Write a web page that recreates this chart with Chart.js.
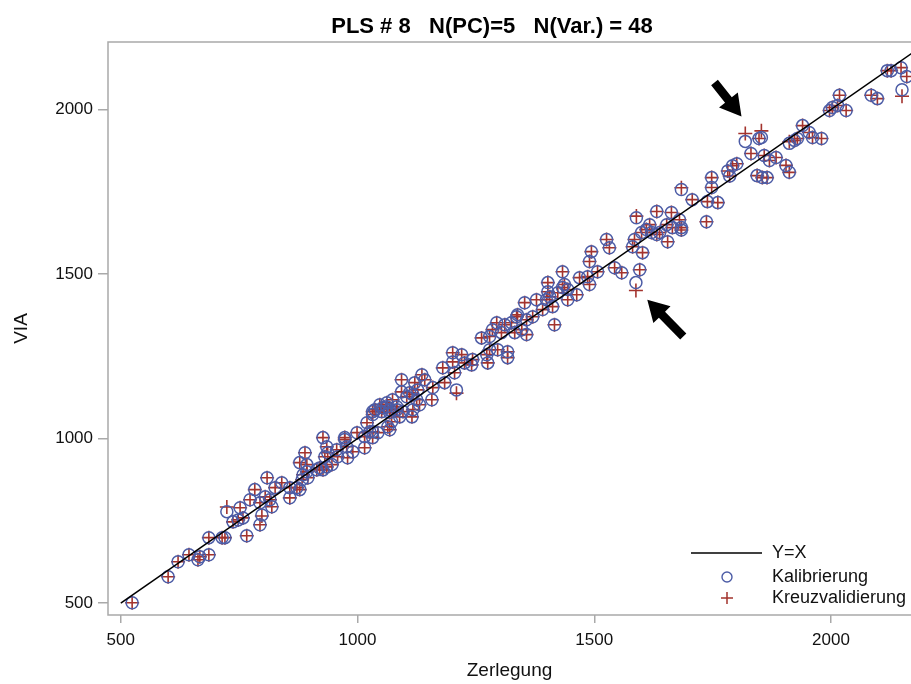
<!DOCTYPE html>
<html>
<head>
<meta charset="utf-8">
<script src="https://cdn.jsdelivr.net/npm/chart.js@4.4.1/dist/chart.umd.min.js"></script>
<style>
  html, body { margin: 0; padding: 0; background: #fff; }
</style>
</head>
<body>
<canvas id="myChart" width="911" height="684"></canvas>
<script>
// data
const zerlegung = [
  524, 600, 621, 644, 663, 667, 686, 686, 714, 720,
  724, 766, 737, 748, 758, 752, 773, 783, 794, 798,
  794, 805, 815, 819, 809, 826, 840, 857, 857, 872,
  878, 883, 885, 893, 895, 878, 889, 893, 914, 920,
  927, 935, 946, 931, 927, 935, 937, 956, 958, 973,
  977, 990, 979, 999, 1015, 1015, 1020, 1032, 1043, 1032,
  1051, 1062, 1068, 1068, 1083, 1074, 973, 1026, 1032, 1037,
  1032, 1047, 1053, 1062, 1068, 1072, 1064, 1083, 1089, 1096,
  1115, 1117, 1093, 1104, 1110, 1117, 1125, 1131, 1093, 1121,
  1136, 1142, 1127, 1157, 1159, 1184, 1180, 1201, 1201, 1205,
  1220, 1226, 1241, 1243, 1209, 1273, 1275, 1279, 1296, 1317,
  1317, 1262, 1279, 1285, 1294, 1304, 1311, 1325, 1336, 1332,
  1347, 1353, 1357, 1338, 1357, 1370, 1378, 1391, 1399, 1402,
  1412, 1416, 1402, 1406, 1423, 1433, 1437, 1444, 1444, 1463,
  1469, 1433, 1486, 1490, 1490, 1494, 1507, 1526, 1532, 1543,
  1558, 1596, 1588, 1581, 1585, 1589, 1600, 1602, 1610, 1617,
  1621, 1632, 1632, 1638, 1653, 1655, 1663, 1665, 1680, 1684,
  1707, 1684, 1684, 1737, 1739, 1748, 1748, 1761, 1782, 1792,
  1801, 1786, 1819, 1831, 1848, 1853, 1844, 1855, 1865, 1859,
  1870, 1884, 1905, 1912, 1912, 1923, 1929, 1940, 1954, 1961,
  1980, 1997, 2003, 2018, 2014, 2032, 2085, 2098, 2119, 2127,
  2148, 2160, 2150
];
const kalibrierung = [
  501, 580, 626, 647, 632, 641, 647, 699, 699, 699,
  778, 705, 747, 753, 759, 790, 814, 845, 805, 768,
  738, 823, 814, 793, 881, 851, 866, 820, 851, 851,
  845, 875, 890, 899, 881, 927, 957, 921, 905, 911,
  905, 914, 921, 945, 1003, 975, 957, 966, 945, 1003,
  975, 960, 942, 1018, 972, 1006, 1048, 1003, 1018, 1082,
  1082, 1097, 1079, 1027, 1088, 1118, 997, 1021, 1021, 1088,
  1073, 1103, 1094, 1109, 1088, 1051, 1036, 1097, 1066, 1082,
  1066, 1088, 1142, 1127, 1139, 1133, 1118, 1103, 1179, 1170,
  1194, 1179, 1148, 1118, 1155, 1170, 1215, 1261, 1233, 1200,
  1255, 1230, 1224, 1240, 1148, 1255, 1230, 1270, 1270, 1264,
  1246, 1306, 1310, 1331, 1352, 1322, 1346, 1352, 1370, 1322,
  1331, 1413, 1316, 1376, 1361, 1370, 1422, 1392, 1422, 1446,
  1401, 1346, 1474, 1431, 1443, 1459, 1468, 1453, 1422, 1437,
  1489, 1507, 1492, 1468, 1538, 1568, 1507, 1605, 1580, 1519,
  1504, 1513, 1474, 1583, 1605, 1671, 1626, 1565, 1635, 1650,
  1626, 1690, 1620, 1626, 1650, 1598, 1687, 1641, 1665, 1641,
  1726, 1757, 1634, 1659, 1720, 1793, 1763, 1717, 1813, 1829,
  1835, 1798, 1903, 1866, 1912, 1915, 1799, 1793, 1793, 1860,
  1845, 1854, 1830, 1809, 1897, 1906, 1912, 1951, 1930, 1915,
  1912, 1997, 2006, 2043, 2012, 1997, 2043, 2033, 2118, 2118,
  2127, 2100, 2060
];
const kreuzvalidierung = [
  501, 580, 626, 647, 632, 641, 647, 699, 699, 699,
  792, 705, 747, 753, 759, 790, 814, 845, 805, 765,
  738, 823, 814, 793, 881, 851, 866, 820, 851, 851,
  845, 875, 890, 899, 881, 927, 957, 921, 905, 911,
  905, 914, 921, 945, 1003, 975, 957, 966, 945, 1003,
  975, 960, 942, 1018, 972, 1006, 1048, 1003, 1018, 1082,
  1082, 1097, 1079, 1027, 1088, 1118, 997, 1021, 1021, 1088,
  1073, 1103, 1094, 1109, 1088, 1051, 1036, 1097, 1066, 1082,
  1066, 1088, 1142, 1127, 1139, 1133, 1118, 1103, 1179, 1170,
  1194, 1179, 1148, 1118, 1155, 1170, 1215, 1261, 1233, 1200,
  1255, 1230, 1224, 1240, 1138, 1255, 1230, 1270, 1270, 1264,
  1246, 1306, 1310, 1331, 1352, 1322, 1346, 1352, 1370, 1322,
  1331, 1413, 1316, 1376, 1361, 1370, 1422, 1392, 1422, 1446,
  1401, 1346, 1474, 1431, 1443, 1459, 1468, 1453, 1422, 1437,
  1489, 1507, 1492, 1468, 1538, 1568, 1507, 1605, 1580, 1519,
  1504, 1513, 1450, 1583, 1605, 1676, 1626, 1565, 1635, 1650,
  1626, 1690, 1620, 1626, 1650, 1598, 1687, 1641, 1665, 1641,
  1726, 1762, 1634, 1659, 1720, 1793, 1763, 1717, 1813, 1829,
  1835, 1798, 1927, 1866, 1912, 1935, 1799, 1793, 1793, 1860,
  1845, 1854, 1830, 1809, 1902, 1906, 1912, 1951, 1930, 1915,
  1912, 1997, 2006, 2043, 2012, 1997, 2043, 2033, 2118, 2118,
  2127, 2100, 2040
];
const xTicks = [500, 1000, 1500, 2000];
const yTicks = [500, 1000, 1500, 2000];
const diagonal = [500, 2300];
// arrows pointing at the two outliers: [tailX, tailY, tipX, tipY] in data units
const arrows = [
  [1754, 2082, 1811, 1979],
  [1688, 1310, 1612, 1422],
];

const titleText = "PLS # 8   N(PC)=5   N(Var.) = 48";
const blue = "#4c5ca6";
const red = "#a3332d";
const frameGray = "#a9a9a9";
const font = "'Liberation Sans', Arial, sans-serif";

function drawArrow(ctx, x1, y1, x2, y2) {
  const ang = Math.atan2(y2 - y1, x2 - x1);
  const len = Math.hypot(x2 - x1, y2 - y1);
  const head = 21, hw = 12, sw = 4.3;
  ctx.save();
  ctx.translate(x1, y1);
  ctx.rotate(ang);
  ctx.beginPath();
  ctx.moveTo(0, -sw);
  ctx.lineTo(len - head, -sw);
  ctx.lineTo(len - head, -hw);
  ctx.lineTo(len, 0);
  ctx.lineTo(len - head, hw);
  ctx.lineTo(len - head, sw);
  ctx.lineTo(0, sw);
  ctx.closePath();
  ctx.fillStyle = "#000";
  ctx.fill();
  ctx.restore();
}

const decor = {
  id: "decor",
  beforeDatasetsDraw(chart) {
    const { ctx, chartArea: a } = chart;
    ctx.save();
    ctx.strokeStyle = frameGray;
    ctx.lineWidth = 1.5;
    ctx.strokeRect(a.left, a.top, a.right - a.left + 20, a.bottom - a.top);
    ctx.restore();
  },
  afterDraw(chart) {
    const { ctx } = chart;
    const xs = chart.scales.x, ys = chart.scales.y;
    ctx.save();
    // title
    ctx.fillStyle = "#000";
    ctx.font = "bold 22px " + font;
    ctx.textAlign = "center";
    ctx.textBaseline = "middle";
    ctx.fillText(titleText, 492, 27);

    // arrows
    arrows.forEach((r) => {
      drawArrow(ctx, xs.getPixelForValue(r[0]), ys.getPixelForValue(r[1]),
        xs.getPixelForValue(r[2]), ys.getPixelForValue(r[3]));
    });

    // legend
    ctx.font = "18px " + font;
    ctx.textAlign = "left";
    ctx.fillStyle = "#111";
    ctx.strokeStyle = "#000";
    ctx.lineWidth = 1.5;
    ctx.beginPath();
    ctx.moveTo(691, 553);
    ctx.lineTo(762, 553);
    ctx.stroke();
    ctx.fillText("Y=X", 772, 553);
    ctx.strokeStyle = blue;
    ctx.lineWidth = 1.4;
    ctx.beginPath();
    ctx.arc(727, 577, 5, 0, Math.PI * 2);
    ctx.stroke();
    ctx.fillText("Kalibrierung", 772, 577);
    ctx.strokeStyle = red;
    ctx.lineWidth = 1.5;
    ctx.beginPath();
    ctx.moveTo(721, 598); ctx.lineTo(733, 598);
    ctx.moveTo(727, 592); ctx.lineTo(727, 604);
    ctx.stroke();
    ctx.fillText("Kreuzvalidierung", 772, 598);
    ctx.restore();
  },
};

new Chart("myChart", {
  type: "scatter",
  data: {
    datasets: [
      {
        label: "Y=X",
        type: "line",
        data: diagonal.map((v) => ({ x: v, y: v })),
        borderColor: "#000",
        borderWidth: 1.5,
        pointRadius: 0,
        fill: false,
      },
      {
        label: "Kalibrierung",
        data: zerlegung.map((x, i) => ({ x: x, y: kalibrierung[i] })),
        pointStyle: "circle",
        pointRadius: 6,
        borderWidth: 1.5,
        borderColor: blue,
        backgroundColor: "rgba(0,0,0,0)",
      },
      {
        label: "Kreuzvalidierung",
        data: zerlegung.map((x, i) => ({ x: x, y: kreuzvalidierung[i] })),
        pointStyle: "cross",
        pointRadius: 7,
        borderWidth: 1.6,
        borderColor: red,
        backgroundColor: red,
      },
    ],
  },
  options: {
    responsive: false,
    animation: false,
    layout: { autoPadding: false, padding: { top: 42, left: 0, right: 0, bottom: 0 } },
    plugins: {
      legend: { display: false },
      tooltip: { enabled: false },
    },
    scales: {
      x: {
        type: "linear",
        min: 473,
        max: 2169,
        afterFit: (s) => { s.height = 69; s.paddingLeft = 0; s.paddingRight = 0; },
        afterBuildTicks: (s) => { s.ticks = xTicks.map((v) => ({ value: v })); },
        border: { display: false },
        grid: { drawOnChartArea: false, drawTicks: true, tickLength: 8, color: frameGray, lineWidth: 1.5 },
        ticks: { color: "#111", padding: 7, maxRotation: 0, callback: (v) => String(v), font: { family: font, size: 17 } },
        title: { display: true, text: "Zerlegung", color: "#111", padding: { top: 0, bottom: 2 }, font: { family: font, size: 19 } },
      },
      y: {
        type: "linear",
        min: 464,
        max: 2205,
        afterFit: (s) => { s.width = 108; s.paddingTop = 0; s.paddingBottom = 0; },
        afterBuildTicks: (s) => { s.ticks = yTicks.map((v) => ({ value: v })); },
        border: { display: false },
        grid: { drawOnChartArea: false, drawTicks: true, tickLength: 10, color: frameGray, lineWidth: 1.5 },
        ticks: { color: "#111", padding: 5, callback: (v) => String(v), font: { family: font, size: 17 } },
        title: { display: true, text: "VIA", color: "#111", padding: { top: 10, bottom: 0 }, font: { family: font, size: 19 } },
      },
    },
  },
  plugins: [decor],
});
</script>
</body>
</html>
